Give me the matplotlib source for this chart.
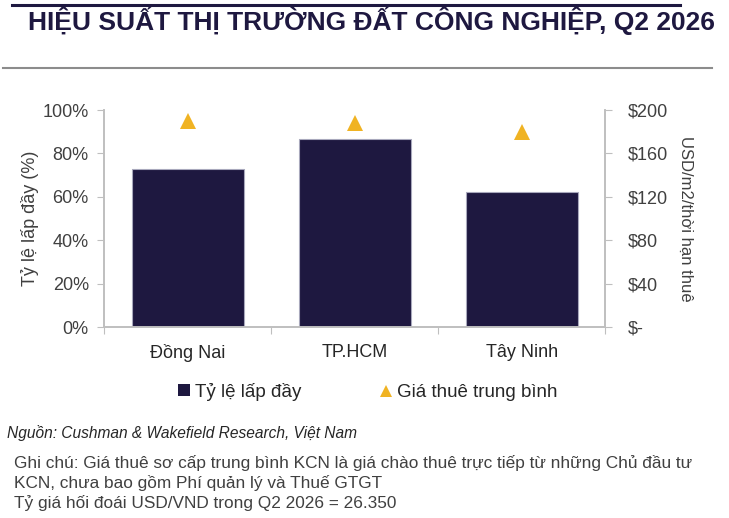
import matplotlib
matplotlib.use('Agg')
import matplotlib.pyplot as plt
from matplotlib.lines import Line2D
from matplotlib.patches import Patch

plt.rcParams['font.family'] = ['Liberation Sans', 'DejaVu Sans']

# data
regions = ['Đồng Nai', 'TP.HCM', 'Tây Ninh']
occupancy = [73.0, 86.5, 62.0]        # %
avg_rent = [190, 188, 180]            # USD/m2/lease term

pct_ticks = [0, 20, 40, 60, 80, 100]
usd_ticks = [0, 40, 80, 120, 160, 200]
usd_labels = ['$-', '$40', '$80', '$120', '$160', '$200']

navy = '#1E1840'
gold = '#F0B323'
grey_txt = '#404040'
axis_col = '#BFBFBF'

fig = plt.figure(figsize=(7.29, 5.18), dpi=100)
ax = fig.add_axes([0.1427, 0.3687, 0.6875, 0.4189])
ax2 = ax.twinx()

x = range(len(regions))
ax.bar(x, occupancy, width=0.67, color=navy, edgecolor='#A8A8BC', linewidth=0.8, zorder=2)
ax2.plot(x, avg_rent, linestyle='none', marker='^', markersize=11, color=gold,
         markeredgewidth=0, zorder=3)

ax.set_xlim(-0.5, 2.5)
ax.set_ylim(0, 100)
ax2.set_ylim(0, 200)

ax.set_yticks(pct_ticks)
ax.set_yticklabels([f'{v}%' for v in pct_ticks], fontsize=13, color=grey_txt)
ax2.set_yticks(usd_ticks)
ax2.set_yticklabels(usd_labels, fontsize=13, color=grey_txt)

# category labels centred, tick marks on the boundaries
ax.set_xticks([-0.5, 0.5, 1.5, 2.5])
ax.set_xticklabels([])
ax.set_xticks(list(x), minor=True)
ax.set_xticklabels(regions, minor=True, fontsize=13, color='#262626')
ax.tick_params(axis='x', which='minor', length=0, pad=12)
ax.tick_params(axis='x', which='major', length=5, color=axis_col, direction='out')
ax.tick_params(axis='y', length=5, color=axis_col, pad=6)
ax2.tick_params(axis='y', length=5, color=axis_col, pad=11)

for a in (ax, ax2):
    a.spines['top'].set_visible(False)
    for s in ('left', 'right', 'bottom'):
        a.spines[s].set_color(axis_col)
        a.spines[s].set_linewidth(1.2)

ax.set_ylabel('Tỷ lệ lấp đầy (%)', fontsize=13, color=grey_txt)
ax.yaxis.set_label_coords(-0.13, 0.5)
ax2.set_ylabel('USD/m2/thời hạn thuê', fontsize=12, color=grey_txt, rotation=-90,
               labelpad=18)

# legend
handles = [Patch(facecolor=navy, edgecolor='none'),
           Line2D([], [], linestyle='none', marker='^', markersize=9, color=gold,
                  markeredgewidth=0)]
fig.legend(handles, ['Tỷ lệ lấp đầy', 'Giá thuê trung bình'], loc='center',
           bbox_to_anchor=(0.505, 1 - 392 / 518), ncol=2, frameon=False,
           fontsize=13.5, handlelength=0.6, handleheight=0.6, handletextpad=0.3,
           columnspacing=4.2, labelcolor='#262626')

# title and rules
fig.add_artist(Line2D([12 / 729, 680 / 729], [1 - 5 / 518] * 2, color=navy,
                      linewidth=2.2, transform=fig.transFigure))
fig.add_artist(Line2D([3 / 729, 712 / 729], [1 - 68 / 518] * 2, color='#8C8C8C',
                      linewidth=1.5, transform=fig.transFigure))
fig.text(28 / 729, 1 - 21 / 518, 'HIỆU SUẤT THỊ TRƯỜNG ĐẤT CÔNG NGHIỆP, Q2 2026',
         fontsize=19, fontweight='bold', color=navy, va='center', ha='left',
         family=['Liberation Sans Narrow', 'Liberation Sans', 'DejaVu Sans'])

# footnotes
fig.text(7 / 729, 1 - 433 / 518, 'Nguồn: Cushman & Wakefield Research, Việt Nam',
         fontsize=11.2, style='italic', color='#262626', va='center')
notes = ['Ghi chú: Giá thuê sơ cấp trung bình KCN là giá chào thuê trực tiếp từ những Chủ đầu tư',
         'KCN, chưa bao gồm Phí quản lý và Thuế GTGT',
         'Tỷ giá hối đoái USD/VND trong Q2 2026 = 26.350']
for i, line in enumerate(notes):
    fig.text(14 / 729, 1 - (463 + 20 * i) / 518, line, fontsize=12.4, color=grey_txt,
             va='center')

fig.savefig('out.png', dpi=100, facecolor='white')
